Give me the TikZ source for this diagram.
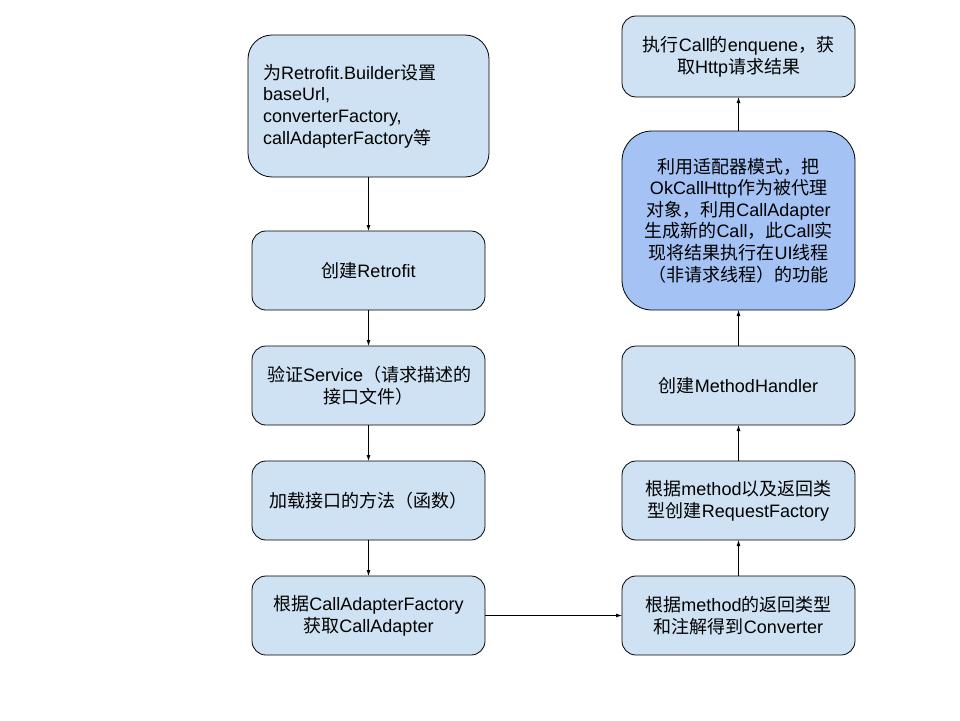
\documentclass[tikz,border=0pt]{standalone}
\usepackage{fontspec}
\setmainfont{Liberation Sans}
\newfontfamily\cjk{Noto Sans CJK SC}
\newcommand{\zh}[1]{{\cjk #1}}
\usepackage{tikz}
\usetikzlibrary{positioning, arrows.meta}
\definecolor{boxblue}{HTML}{CFE2F3}
\definecolor{keyblue}{HTML}{A4C2F4}
\tikzset{flow node/.style={rectangle,rounded corners=14pt,fill=boxblue,draw,line width=0.8pt,outer sep=0pt,
    minimum width=233pt,minimum height=79pt,inner xsep=15pt,text width=203pt,align=center,
    font=\fontsize{18}{21.6}\selectfont}}

\begin{document}
\begin{tikzpicture}[>={Latex[length=6pt,width=4pt]}]
            \useasboundingbox (0,0) rectangle (960pt,-720pt);
            \node[flow node, minimum width=241pt, text width=211pt, minimum height=142pt,
                  rounded corners=24pt, align=left] (B1) at (368.5pt,-106pt)
                  {\zh{为}Retrofit.Builder\zh{设置}\\ baseUrl,\\ converterFactory,\\ callAdapterFactory\zh{等}};
            \node[flow node] (B2) [below = 54pt of B1] {\zh{创建}Retrofit};
            \node[flow node] (B3) [below = 36pt of B2] {\zh{验证}Service\zh{（请求描述的}\\ \zh{接口文件）}};
            \node[flow node] (B4) [below = 36pt of B3] {\zh{加载接口的方法（函数）}};
            \node[flow node] (B5) [below = 36pt of B4] {\zh{根据}CallAdapterFactory\\ \zh{获取}CallAdapter};
            \node[flow node] (R1) [right = 137pt of B5] {\zh{根据}method\zh{的返回类型}\\ \zh{和注解得到}Converter};
            \node[flow node] (R2) [above = 36pt of R1] {\zh{根据}method\zh{以及返回类}\\ \zh{型创建}RequestFactory};
            \node[flow node] (R3) [above = 36pt of R2] {\zh{创建}MethodHandler};
            \node[flow node, fill=keyblue, minimum height=179pt, rounded corners=30pt] (R4) [above = 36pt of R3]
                  {\zh{利用适配器模式，把}\\ OkCallHttp\zh{作为被代理}\\ \zh{对象，利用}CallAdapter\\
                   \zh{生成新的}Call\zh{，此}Call\zh{实}\\ \zh{现将结果执行在}UI\zh{线程}\\ \zh{（非请求线程）的功能}};
            \node[flow node, minimum height=81pt] (R5) [above = 34pt of R4] {\zh{执行}Call\zh{的}enquene\zh{，获}\\ \zh{取}Http\zh{请求结果}};

            \path[draw, ->, line width=0.8pt]
            (B1) edge (B2)
            (B2) edge (B3)
            (B3) edge (B4)
            (B4) edge (B5)
            (B5) edge (R1)
            (R1) edge (R2)
            (R2) edge (R3)
            (R3) edge (R4)
            (R4) edge (R5);
\end{tikzpicture}
\end{document}
